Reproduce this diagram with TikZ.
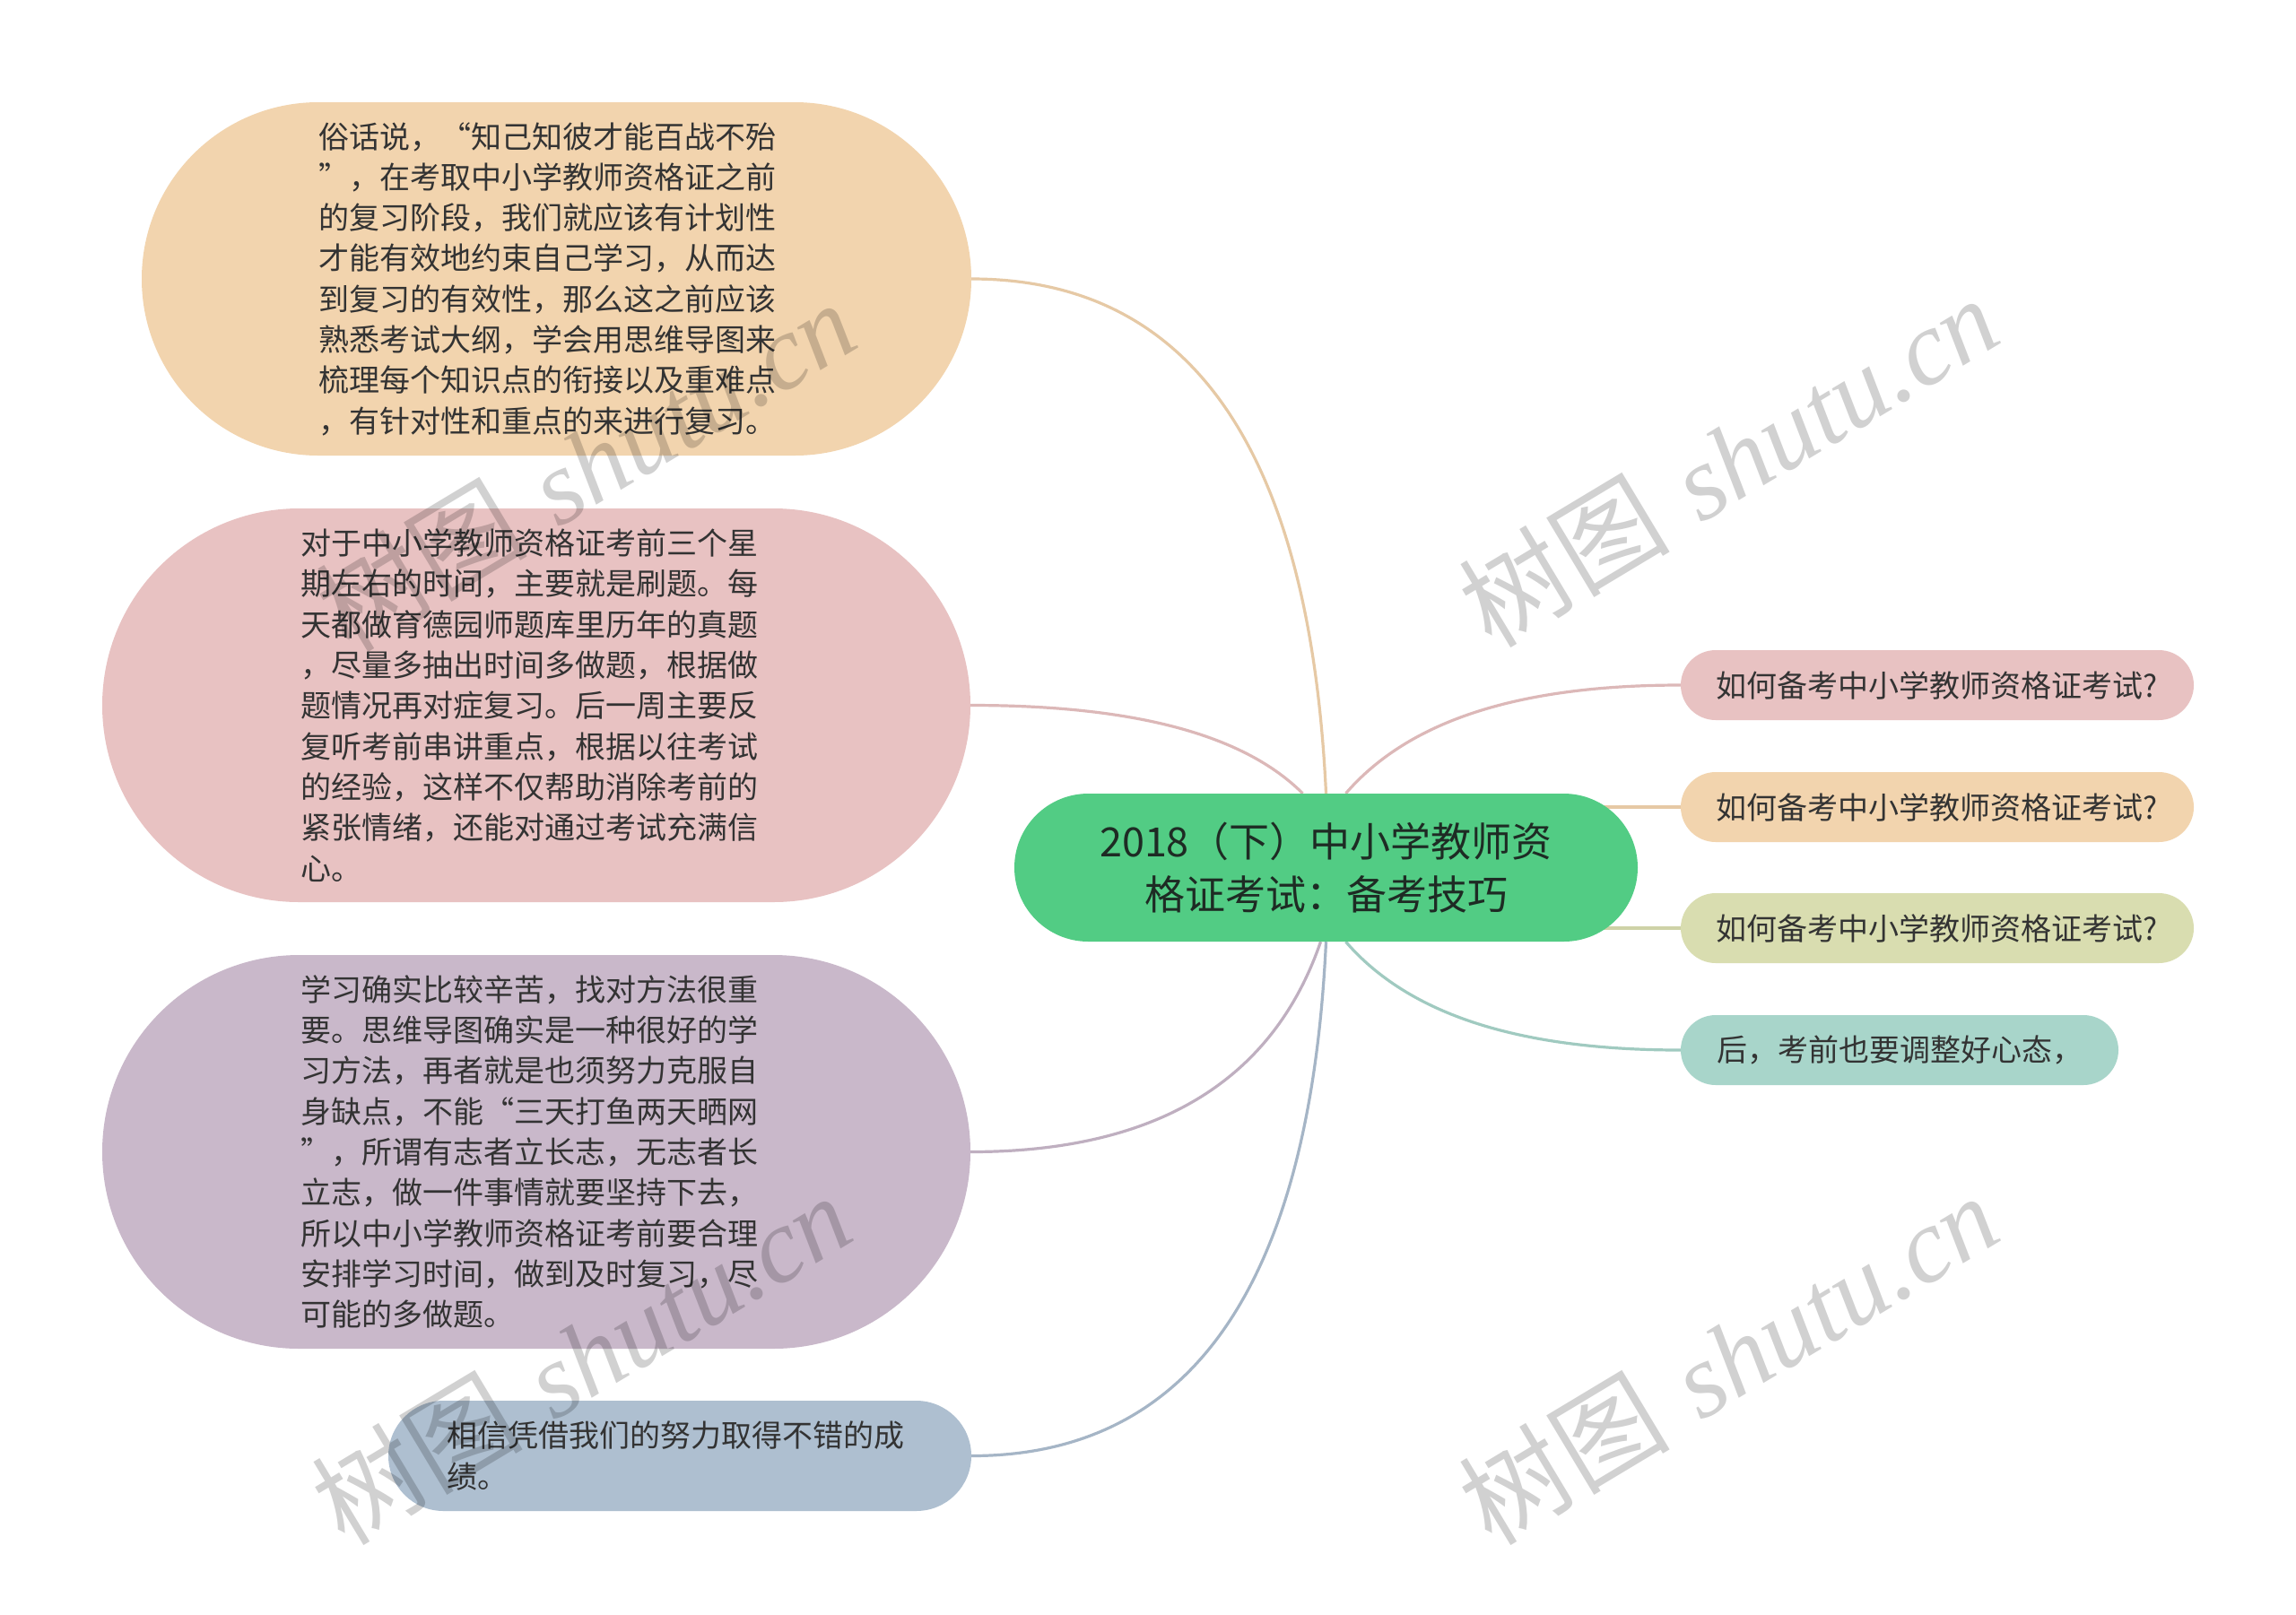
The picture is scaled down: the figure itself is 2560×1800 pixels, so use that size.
\documentclass[tikz,border=0pt]{standalone}
\usepackage{fontspec}
\newfontfamily\cjk{Noto Sans CJK SC}
\newfontfamily\wmserif{Liberation Serif}
\usetikzlibrary{shapes.misc,calc}
\definecolor{cPeach}{HTML}{F2D4AE}
\definecolor{cPink}{HTML}{E8C2C2}
\definecolor{cPurple}{HTML}{C9B8CA}
\definecolor{cBlue}{HTML}{AEBFD0}
\definecolor{cGreen}{HTML}{52CC84}
\definecolor{cOlive}{HTML}{D9DDB0}
\definecolor{cTeal}{HTML}{A8D5CA}
\definecolor{txt}{HTML}{333333}
\definecolor{txtdark}{HTML}{1E2B24}
\pgfdeclarelayer{bg}
\pgfdeclarelayer{paper}
\pgfsetlayers{paper,bg,main}
\begin{document}
\begin{tikzpicture}[x=1pt,y=1pt,
  pillbox/.style={rounded rectangle, inner sep=0pt, text=txt,
    font=\cjk\fontsize{34}{45.3}\selectfont},
  bigbox/.style={pillbox, align=left},
  smallbox/.style={pillbox, minimum width=572pt, minimum height=78pt},
  link/.style={line width=3.2pt},
  wm/.style={rotate=31, text=black, opacity=0.18,
    font=\fontsize{118}{118}\selectfont}
]
\begin{pgfonlayer}{paper}
\fill[white] (0,0) rectangle (2560,-1800);
\end{pgfonlayer}
\useasboundingbox (0,0) rectangle (2560,-1800);

% centre
\node[pillbox, fill=cGreen, minimum width=695pt, minimum height=165pt,
  align=center, text=txtdark, font=\cjk\fontsize{45}{59}\selectfont]
  (M) at (1478.5,-967.5) {2018（下）中小学教师资\\格证考试：备考技巧};

% left
\node[bigbox, fill=cPeach, minimum width=925pt, minimum height=394pt, text width=530pt]
  (A) at (620.5,-311) {俗话说，“知己知彼才能百战不殆\\”，在考取中小学教师资格证之前\\的复习阶段，我们就应该有计划性\\才能有效地约束自己学习，从而达\\到复习的有效性，那么这之前应该\\熟悉考试大纲，学会用思维导图来\\梳理每个知识点的衔接以及重难点\\，有针对性和重点的来进行复习。};
\node[bigbox, fill=cPink, minimum width=968pt, minimum height=439pt, text width=526pt]
  (B) at (598,-786.5) {对于中小学教师资格证考前三个星\\期左右的时间，主要就是刷题。每\\天都做育德园师题库里历年的真题\\，尽量多抽出时间多做题，根据做\\题情况再对症复习。后一周主要反\\复听考前串讲重点，根据以往考试\\的经验，这样不仅帮助消除考前的\\紧张情绪，还能对通过考试充满信\\心。};
\node[bigbox, fill=cPurple, minimum width=968pt, minimum height=439pt, text width=526pt]
  (C) at (598,-1284.5) {学习确实比较辛苦，找对方法很重\\要。思维导图确实是一种很好的学\\习方法，再者就是也须努力克服自\\身缺点，不能“三天打鱼两天晒网\\”，所谓有志者立长志，无志者长\\立志，做一件事情就要坚持下去，\\所以中小学教师资格证考前要合理\\安排学习时间，做到及时复习，尽\\可能的多做题。};
\node[bigbox, fill=cBlue, minimum width=650pt, minimum height=123pt, text width=520pt]
  (D) at (758,-1623.5) {相信凭借我们的努力取得不错的成\\绩。};

% right
\node[smallbox, fill=cPink] (R1) at (2160,-764) {如何备考中小学教师资格证考试?};
\node[smallbox, fill=cPeach] (R2) at (2160,-900) {如何备考中小学教师资格证考试?};
\node[smallbox, fill=cOlive] (R3) at (2160,-1035) {如何备考中小学教师资格证考试?};
\node[pillbox, fill=cTeal, minimum width=488pt, minimum height=78pt] (R4) at (2118,-1171) {后，考前也要调整好心态，};

\begin{pgfonlayer}{bg}
\draw[link, draw=cPeach!95!black] (A.east) .. controls +(245,0) and +(-18,383) .. (M.north);
\draw[link, draw=cPink!95!black] (B.east) .. controls +(179,0) and +(-67,67) .. ($(M.north)+(-26,0)$);
\draw[link, draw=cPurple!95!black] (C.east) .. controls +(205,0) and +(-54,-157) .. ($(M.south)+(-6,0)$);
\draw[link, draw=cBlue!95!black] (D.east) .. controls +(245,0) and +(-18,-383) .. (M.south);
\draw[link, draw=cPink!95!black] (R1.west) .. controls +(-181,0) and +(70,81) .. ($(M.north)+(22,0)$);
\draw[link, draw=cPeach!95!black] (M.center |- R2.west) -- (R2.west);
\draw[link, draw=cOlive!95!black] (M.center |- R3.west) -- (R3.west);
\draw[link, draw=cTeal!95!black] (R4.west) .. controls +(-181,0) and +(70,-81) .. ($(M.south)+(22,0)$);
\end{pgfonlayer}

% watermarks
\node[wm] (w1) at (653,-519) {{\cjk 树图} {\wmserif\itshape shutu.cn}};
\node[wm] (w2) at (1927,-514) {{\cjk 树图} {\wmserif\itshape shutu.cn}};
\node[wm] (w3) at (648,-1515) {{\cjk 树图} {\wmserif\itshape shutu.cn}};
\node[wm] (w4) at (1927,-1515) {{\cjk 树图} {\wmserif\itshape shutu.cn}};
\end{tikzpicture}
\end{document}
